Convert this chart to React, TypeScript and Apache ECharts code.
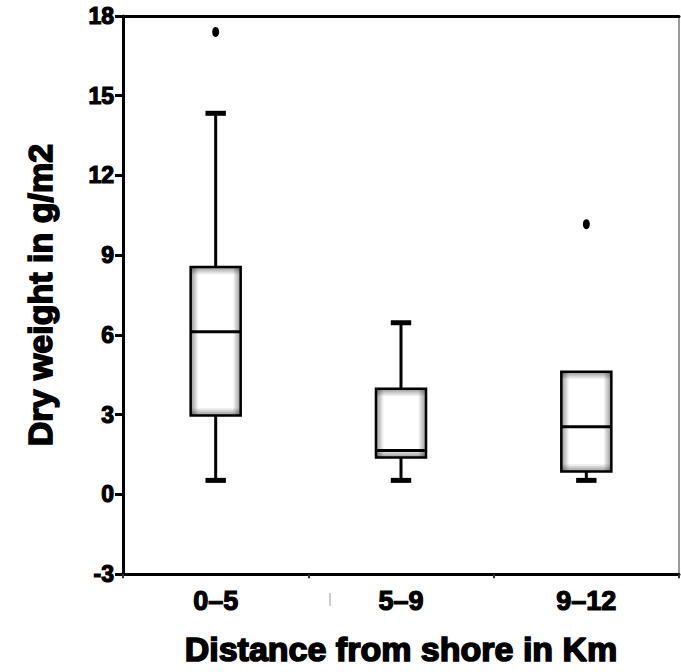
import React, { useEffect, useRef } from "react";
import * as echarts from "echarts";

const categories = ["0–5", "5–9", "9–12"];
const lowWhisker = [0.53, 0.53, 0.53];
const q1 = [2.97, 1.39, 0.86];
const median = [6.12, 1.65, 2.55];
const q3 = [8.56, 3.98, 4.62];
const highWhisker = [14.34, 6.46, 4.62];
const outliers: [number, number][] = [
  [0, 17.4],
  [2, 10.17],
];
const yTicks = { min: -3, max: 18, interval: 3 };

const FONT = "'Liberation Sans', Arial, sans-serif";
const heavy = { textBorderColor: "#000", textBorderWidth: 1.2 };

export default function App() {
  const ref = useRef<HTMLDivElement>(null);
  useEffect(() => {
    if (!ref.current) return;
    const chart = echarts.init(ref.current, undefined, { renderer: "svg" });
    const boxData = categories.map((_, i) => [
      i,
      lowWhisker[i],
      q1[i],
      median[i],
      q3[i],
      highWhisker[i],
    ]);
    const renderItem = (params: any, api: any) => {
      const idx = api.value(0);
      const lo = api.value(1);
      const b1 = api.value(2);
      const med = api.value(3);
      const b3 = api.value(4);
      const hi = api.value(5);
      const band = api.size([1, 0])[0];
      const cx = api.coord([idx, lo])[0];
      const yLo = api.coord([idx, lo])[1];
      const yQ1 = api.coord([idx, b1])[1];
      const yMed = api.coord([idx, med])[1];
      const yQ3 = api.coord([idx, b3])[1];
      const yHi = api.coord([idx, hi])[1];
      const bw = band * 0.27;
      const cw = band * 0.11;
      const x0 = cx - bw / 2;
      const h = yQ1 - yQ3;
      const edge = 8;
      const shade = "rgba(0,0,0,0.42)";
      const clear = "rgba(0,0,0,0)";
      const children: any[] = [];
      if (hi > b3) {
        children.push({
          type: "line",
          shape: { x1: cx, y1: yHi, x2: cx, y2: yQ3 },
          style: { stroke: "#000", lineWidth: 3 },
        });
        children.push({
          type: "rect",
          shape: { x: cx - cw / 2, y: yHi - 2.5, width: cw, height: 5 },
          style: { fill: "#000" },
        });
      }
      if (lo < b1) {
        children.push({
          type: "line",
          shape: { x1: cx, y1: yQ1, x2: cx, y2: yLo },
          style: { stroke: "#000", lineWidth: 3 },
        });
        children.push({
          type: "rect",
          shape: { x: cx - cw / 2, y: yLo - 2.5, width: cw, height: 5 },
          style: { fill: "#000" },
        });
      }
      children.push({
        type: "rect",
        shape: { x: x0, y: yQ3, width: bw, height: h },
        style: { fill: "#fff" },
      });
      const ex = Math.min(0.45, edge / bw);
      children.push({
        type: "rect",
        shape: { x: x0, y: yQ3, width: bw, height: h },
        style: {
          fill: new echarts.graphic.LinearGradient(0, 0, 1, 0, [
            { offset: 0, color: shade },
            { offset: ex, color: clear },
            { offset: 1 - ex, color: clear },
            { offset: 1, color: shade },
          ]),
        },
      });
      const ey = Math.min(0.45, edge / Math.max(h, 1));
      children.push({
        type: "rect",
        shape: { x: x0, y: yQ3, width: bw, height: h },
        style: {
          fill: new echarts.graphic.LinearGradient(0, 0, 0, 1, [
            { offset: 0, color: shade },
            { offset: ey, color: clear },
            { offset: 1 - ey, color: clear },
            { offset: 1, color: shade },
          ]),
        },
      });
      children.push({
        type: "rect",
        shape: { x: x0, y: yQ3, width: bw, height: h },
        style: { fill: "none", stroke: "#000", lineWidth: 2.5 },
      });
      children.push({
        type: "line",
        shape: { x1: x0, y1: yMed, x2: x0 + bw, y2: yMed },
        style: { stroke: "#000", lineWidth: 3 },
      });
      return { type: "group", children };
    };

    chart.setOption({
      animation: false,
      backgroundColor: "#fff",
      grid: { left: 123, right: 2, top: 16, bottom: 96 },
      xAxis: [
        {
          type: "category",
          data: categories,
          position: "bottom",
          axisLine: { onZero: false, lineStyle: { color: "#000", width: 3 } },
          axisTick: { show: true, length: 4, lineStyle: { color: "#333", width: 2 } },
          axisLabel: {
            color: "#000",
            fontSize: 27,
            fontWeight: "bold",
            fontFamily: FONT,
            margin: 13,
            ...heavy,
          },
          name: "Distance from shore in Km",
          nameLocation: "middle",
          nameGap: 58,
          nameTextStyle: {
            color: "#000",
            fontSize: 34,
            fontWeight: "bold",
            fontFamily: FONT,
            ...heavy,
            textBorderWidth: 1.6,
          },
        },
        {
          type: "category",
          data: categories,
          position: "top",
          axisLine: { onZero: false, lineStyle: { color: "#000", width: 3 } },
          axisTick: { show: false },
          axisLabel: { show: false },
        },
      ],
      yAxis: [
        {
          type: "value",
          min: yTicks.min,
          max: yTicks.max,
          interval: yTicks.interval,
          splitLine: { show: false },
          axisLine: { show: true, onZero: false, lineStyle: { color: "#000", width: 3 } },
          axisTick: { show: true, length: 8, lineStyle: { color: "#000", width: 3 } },
          axisLabel: {
            color: "#000",
            fontSize: 23,
            fontWeight: "bold",
            fontFamily: FONT,
            margin: 9,
            ...heavy,
          },
          name: "Dry weight in g/m2",
          nameLocation: "middle",
          nameGap: 66,
          nameTextStyle: {
            color: "#000",
            fontSize: 34,
            fontWeight: "bold",
            fontFamily: FONT,
            ...heavy,
            textBorderWidth: 1.6,
          },
        },
        {
          type: "value",
          min: yTicks.min,
          max: yTicks.max,
          position: "right",
          splitLine: { show: false },
          axisLine: { show: true, onZero: false, lineStyle: { color: "#777", width: 1.5 } },
          axisTick: { show: false },
          axisLabel: { show: false },
        },
      ],
      series: [
        {
          type: "custom",
          xAxisIndex: 0,
          yAxisIndex: 0,
          renderItem,
          encode: { x: 0, y: [1, 2, 3, 4, 5] },
          data: boxData,
          z: 3,
        },
        {
          type: "scatter",
          xAxisIndex: 0,
          yAxisIndex: 0,
          symbol: "circle",
          symbolSize: [7, 10],
          itemStyle: { color: "#000", opacity: 1 },
          data: outliers,
          z: 4,
        },
      ],
      graphic: [
        {
          type: "line",
          shape: { x1: 330, y1: 593, x2: 330, y2: 606 },
          style: { stroke: "#bbb", lineWidth: 1.5 },
        },
      ],
    });
    return () => chart.dispose();
  }, []);
  return (
    <div
      ref={ref}
      style={{ position: "fixed", left: 0, top: 0, width: 681, height: 672, background: "#fff" }}
    />
  );
}
